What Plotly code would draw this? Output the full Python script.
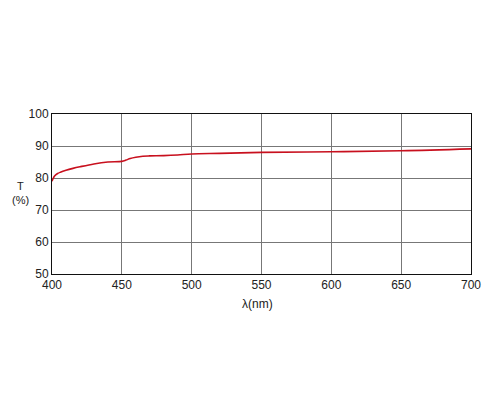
import plotly.graph_objects as go

wavelength = [400, 401, 402, 404, 406, 410, 415, 420, 430, 440, 450, 453, 456, 460, 465, 470, 480, 490, 500, 520, 550, 600, 650, 700]
transmittance = [79.0, 80.0, 80.7, 81.4, 81.8, 82.4, 83.0, 83.5, 84.4, 85.0, 85.2, 85.6, 86.1, 86.5, 86.8, 86.9, 87.0, 87.2, 87.5, 87.7, 88.0, 88.2, 88.5, 89.1]
x_ticks = [400, 450, 500, 550, 600, 650, 700]
y_ticks = [50, 60, 70, 80, 90, 100]

fig = go.Figure()
fig.add_trace(go.Scatter(x=wavelength, y=transmittance, mode="lines",
                         line=dict(color="#c8101e", width=1.6, shape="spline"),
                         showlegend=False, hoverinfo="skip"))

font = dict(family="Liberation Sans, Arial, sans-serif", size=12, color="#222")
fig.update_layout(
    width=500, height=417,
    margin=dict(l=44, r=37, t=106, b=151),
    paper_bgcolor="white", plot_bgcolor="white",
    font=font,
    xaxis=dict(range=[400, 700], tickvals=x_ticks, showgrid=True, gridcolor="#777",
               gridwidth=1, zeroline=False, showline=True, linecolor="#111", linewidth=1,
               mirror=True, ticks="", tickfont=dict(size=12)),
    yaxis=dict(range=[50, 100], tickvals=y_ticks, showgrid=True, gridcolor="#777",
               gridwidth=1, zeroline=False, showline=True, linecolor="#111", linewidth=1,
               mirror=True, ticks="", tickfont=dict(size=12)),
)
fig.add_annotation(text="T", xref="paper", yref="paper", x=-0.076, y=0.55,
                   showarrow=False, xanchor="center", yanchor="middle",
                   font=dict(size=11, family="Liberation Sans, Arial, sans-serif", color="#222"))
fig.add_annotation(text="(%)", xref="paper", yref="paper", x=-0.076, y=0.46,
                   showarrow=False, xanchor="center", yanchor="middle",
                   font=dict(size=11, family="Liberation Sans, Arial, sans-serif", color="#222"))
fig.add_annotation(text="λ(nm)", xref="paper", yref="paper", x=0.49, y=-0.19,
                   showarrow=False, xanchor="center", yanchor="middle",
                   font=dict(size=12, family="Liberation Sans, Arial, sans-serif", color="#222"))
fig.write_html("out.html")
